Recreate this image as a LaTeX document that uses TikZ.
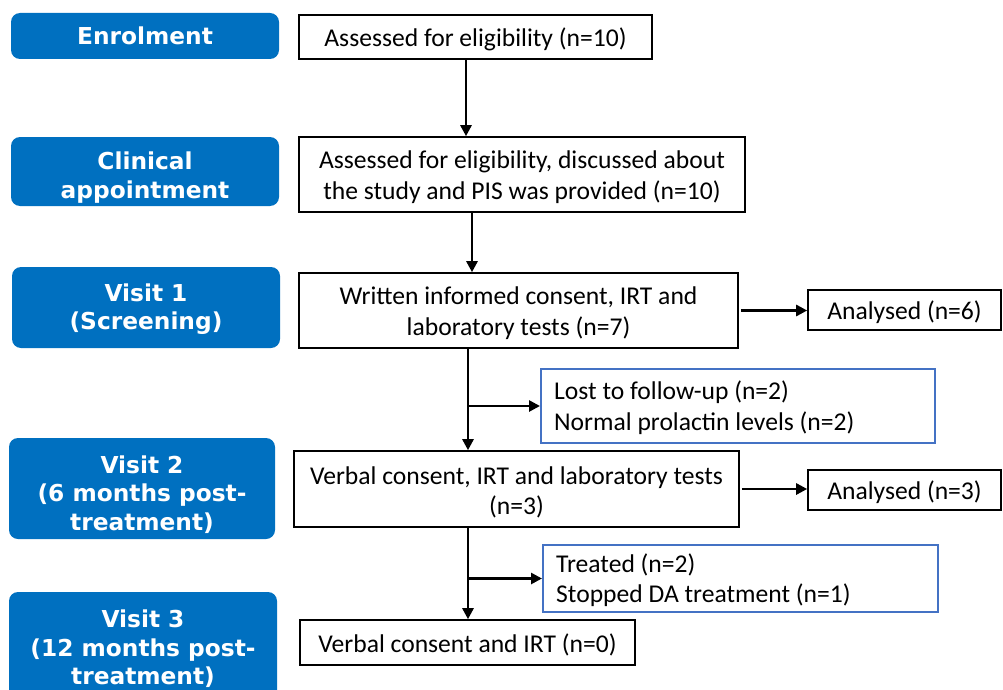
\documentclass[tikz,border=0pt]{standalone}
\usepackage{fontspec}
\setmainfont{Carlito}
\newfontfamily\stagefont{DejaVu Sans}
\usetikzlibrary{arrows.meta}
\definecolor{stageblue}{HTML}{0070C0}
\definecolor{noteblue}{HTML}{4472C4}
\begin{document}
\begin{tikzpicture}[x=1pt,y=-1pt,
  stage/.style={fill=stageblue, rounded corners=9pt, inner sep=0pt},
  stagetext/.style={text=white, align=center, inner sep=0pt,
    font=\stagefont\bfseries\fontsize{23.3}{28.5}\selectfont},
  stepbox/.style={draw=black, line width=1.6pt, fill=white, inner sep=0pt},
  steptext/.style={font=\fontsize{25.6}{30.5}\selectfont, align=center, inner sep=0pt, yshift=-2.5pt},
  notebox/.style={draw=noteblue, line width=2pt, fill=white, inner sep=0pt},
  notetext/.style={font=\fontsize{25.6}{30.5}\selectfont, align=left, inner sep=0pt,
    anchor=west, xshift=14pt, yshift=-1.5pt},
  arr/.style={line width=2.6pt, -{Triangle[length=11pt,width=11pt]}}]
\clip (0,0) rectangle (1003,690);

% study stages (left column)
\node[stage, minimum width=268, minimum height=46] (s0) at (145,36) {};
\node[stagetext] (s0t) at (s0.center) {Enrolment};
\node[stage, minimum width=268, minimum height=69] (s1) at (145,171.5) {};
\node[stagetext, yshift=-6pt] (s1t) at (s1.center) {Clinical\\appointment};
\node[stage, minimum width=268, minimum height=81] (s2) at (146,307.5) {};
\node[stagetext, yshift=-1.5pt] (s2t) at (s2.center) {Visit 1\\(Screening)};
\node[stage, minimum width=266, minimum height=101] (s3) at (142,488.5) {};
\node[stagetext, yshift=-6pt] (s3t) at (s3.center) {Visit 2\\(6 months post-\\treatment)};
\node[stage, minimum width=268, minimum height=110] (s4) at (143,647) {};
\node[stagetext, yshift=-2pt] (s4t) at (s4.center) {Visit 3\\(12 months post-\\treatment)};

% flow boxes
\node[stepbox, minimum width=353, minimum height=44] (a1) at (475.5,37) {};
\node[steptext] (a1t) at (a1.center) {Assessed for eligibility (n=10)};
\node[stepbox, minimum width=446, minimum height=75] (a2) at (522,174.5) {};
\node[steptext] (a2t) at (a2.center) {Assessed for eligibility, discussed about\\the study and PIS was provided (n=10)};
\node[stepbox, minimum width=439, minimum height=75] (v1) at (518.5,310.5) {};
\node[steptext] (v1t) at (v1.center) {Written informed consent, IRT and\\laboratory tests (n=7)};
\node[stepbox, minimum width=193, minimum height=40] (an1) at (904.5,310) {};
\node[steptext] (an1t) at (an1.center) {Analysed (n=6)};
\node[stepbox, minimum width=445, minimum height=76] (v2) at (516.5,489) {};
\node[steptext, yshift=-1pt] (v2t) at (v2.center) {\raisebox{-1pt}{Verbal consent, IRT and laboratory tests}\\(n=3)};
\node[stepbox, minimum width=193, minimum height=40] (an2) at (904.5,490) {};
\node[steptext] (an2t) at (an2.center) {Analysed (n=3)};
\node[stepbox, minimum width=335, minimum height=45] (v3) at (467.5,642.5) {};
\node[steptext] (v3t) at (v3.center) {Verbal consent and IRT (n=0)};

% side notes with left-aligned text
\node[notebox, minimum width=394, minimum height=74] (lost) at (738,406) {};
\node[notetext] (lostt) at (lost.west) {Lost to follow-up (n=2)\\Normal prolactin levels (n=2)};
\node[notebox, minimum width=395, minimum height=67] (treated) at (740.5,578.5) {};
\node[notetext] (treatedt) at (treated.west) {Treated (n=2)\\Stopped DA treatment (n=1)};

% trunk positions of the vertical connectors
\coordinate (t0) at (466,0);
\coordinate (t1) at (472,0);
\coordinate (t2) at (468,0);
\coordinate (t3) at (468,0);

\draw[arr] (a1.south -| t0) -- (a2.north -| t0);
\draw[arr] (a2.south -| t1) -- (v1.north -| t1);
\draw[arr] (v1.south -| t2) -- (v2.north -| t2);
\draw[arr] (t2 |- lost.west) -- (lost.west);
\draw[arr] (v2.south -| t3) -- (v3.north -| t3);
\draw[arr] (t3 |- treated.west) -- (treated.west);
\draw[arr] (v1.east) ++(2,0) -- (v1.east -| an1.west);
\draw[arr] (v2.east) ++(2,0) -- (v2.east -| an2.west);
\end{tikzpicture}
\end{document}
